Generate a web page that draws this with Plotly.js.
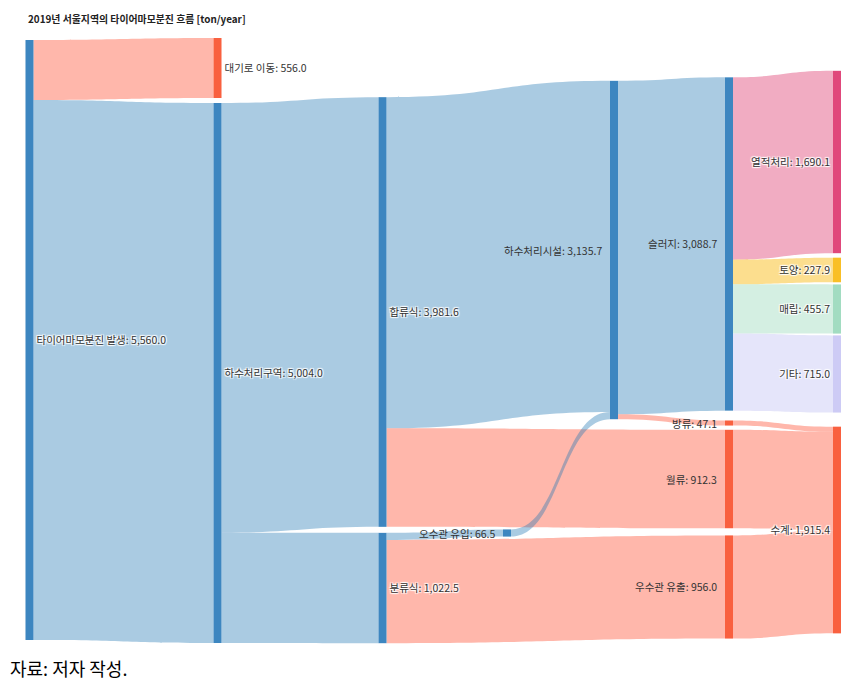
<!DOCTYPE html>
<html><head><meta charset="utf-8">
<script src="https://cdn.plot.ly/plotly-3.0.1.min.js"></script>
<style>body{margin:0;background:#fff}</style>
</head><body><div id="chart" style="width:865px;height:690px"></div>
<script>
// ---- data ----
const nodeNames = ["타이어마모분진 발생","대기로 이동","하수처리구역","합류식","분류식","오수관 유입","하수처리시설","슬러지","방류","월류","우수관 유출","열적처리","토양","매립","기타","수계"];
const nodeTotals = [5560.0,556.0,5004.0,3981.6,1022.5,66.5,3135.7,3088.7,47.1,912.3,956.0,1690.1,227.9,455.7,715.0,1915.4];
const linkSource = [0,0,2,2,3,3,4,4,5,6,6,7,7,7,7,8,9,10];
const linkTarget = [1,2,3,4,6,9,5,10,6,7,8,11,12,13,14,15,15,15];
const linkValue  = [556.0,5004.0,3981.6,1022.5,3069.2,912.3,66.5,956.0,66.5,3088.7,47.1,1690.1,227.9,455.7,715.0,47.1,912.3,956.0];
const nodeGroup = ["blue","red","blue","blue","blue","blue","blue","blue","red","red","red","pink","yellow","green","lavender","red"];
const titleText = "2019년 서울지역의 타이어마모분진 흐름 [ton/year]";
const noteText = "자료: 저자 작성.";

// ---- layout config (positions / styles) ----
const PLOT_W = 825, PLOT_H = 610, THICK = 8;
const nodeX = [0.0115,0.2394,0.2394,0.4394,0.4394,0.5903,0.7200,0.8594,0.8594,0.8594,0.8594,0.9903,0.9903,0.9903,0.9903,0.9903];
const nodeY = [0.5000,0.0541,0.5541,0.4541,0.9066,0.8164,0.3525,0.3426,0.6361,0.7279,0.9049,0.2082,0.3852,0.4492,0.5557,0.8115];
// nodes whose label sits on the left of the node (right half of the diagram, not in the last column)
const leftLabelNodes = [5,6,7,8,9,10];
const nodeColorMap = {blue:"#3d86c0", red:"#f9603f", pink:"#e0487b", yellow:"#f9bf26", green:"#a2dcc1", lavender:"#cdcbf5"};
const linkColorMap = {blue:"rgba(31,119,180,0.38)", red:"rgba(255,99,71,0.46)", pink:"rgba(225,70,120,0.45)", yellow:"rgba(250,190,30,0.5)", green:"rgba(160,220,190,0.45)", lavender:"rgba(204,204,245,0.5)"};

const fmt = v => v.toLocaleString('en-US',{minimumFractionDigits:1,maximumFractionDigits:1});
const fullLabels = nodeNames.map((n,i)=> n + ": " + fmt(nodeTotals[i]));
const sankeyLabels = fullLabels.map((t,i)=> leftLabelNodes.includes(i) ? "" : t);
const nodeColors = nodeGroup.map(g=>nodeColorMap[g]);
const linkColors = linkTarget.map(t=>linkColorMap[nodeGroup[t]]);

const FONT = "Noto Sans CJK KR, Noto Sans, sans-serif";
const LABEL_FONT = {family:FONT, size:10.5, color:'#333'};
const trace = {
  type:'sankey',
  arrangement:'fixed',
  domain:{x:[0,1],y:[0,1]},
  node:{label:sankeyLabels, x:nodeX, y:nodeY, pad:2, thickness:THICK, color:nodeColors, line:{width:0}, hoverinfo:'none'},
  link:{source:linkSource, target:linkTarget, value:linkValue, color:linkColors, hoverinfo:'none'},
  textfont:LABEL_FONT
};
const leftLabelAnns = leftLabelNodes.map(i=>({
  text:fullLabels[i], xref:'paper', yref:'paper',
  x:nodeX[i] - (THICK/2 + 6)/PLOT_W, y:1 - nodeY[i],
  xanchor:'right', yanchor:'middle', showarrow:false, font:LABEL_FONT
}));
const layout = {
  width:865, height:690,
  margin:{l:20,r:20,t:35,b:45},
  paper_bgcolor:'#fff',
  font:{family:FONT},
  title:{text:titleText, x:28/865, xref:'container', xanchor:'left', y:1-20/690, yref:'container', yanchor:'middle',
         font:{family:FONT, size:9.9, color:'#222', weight:'bold'}},
  annotations:leftLabelAnns.concat([{text:noteText, xref:'paper', yref:'paper', x:-12/PLOT_W, y:-23/PLOT_H, xanchor:'left', yanchor:'middle', showarrow:false,
                font:{family:FONT, size:18, color:'#000'}}])
};
Plotly.newPlot('chart',[trace],layout,{displayModeBar:false});
</script></body></html>
